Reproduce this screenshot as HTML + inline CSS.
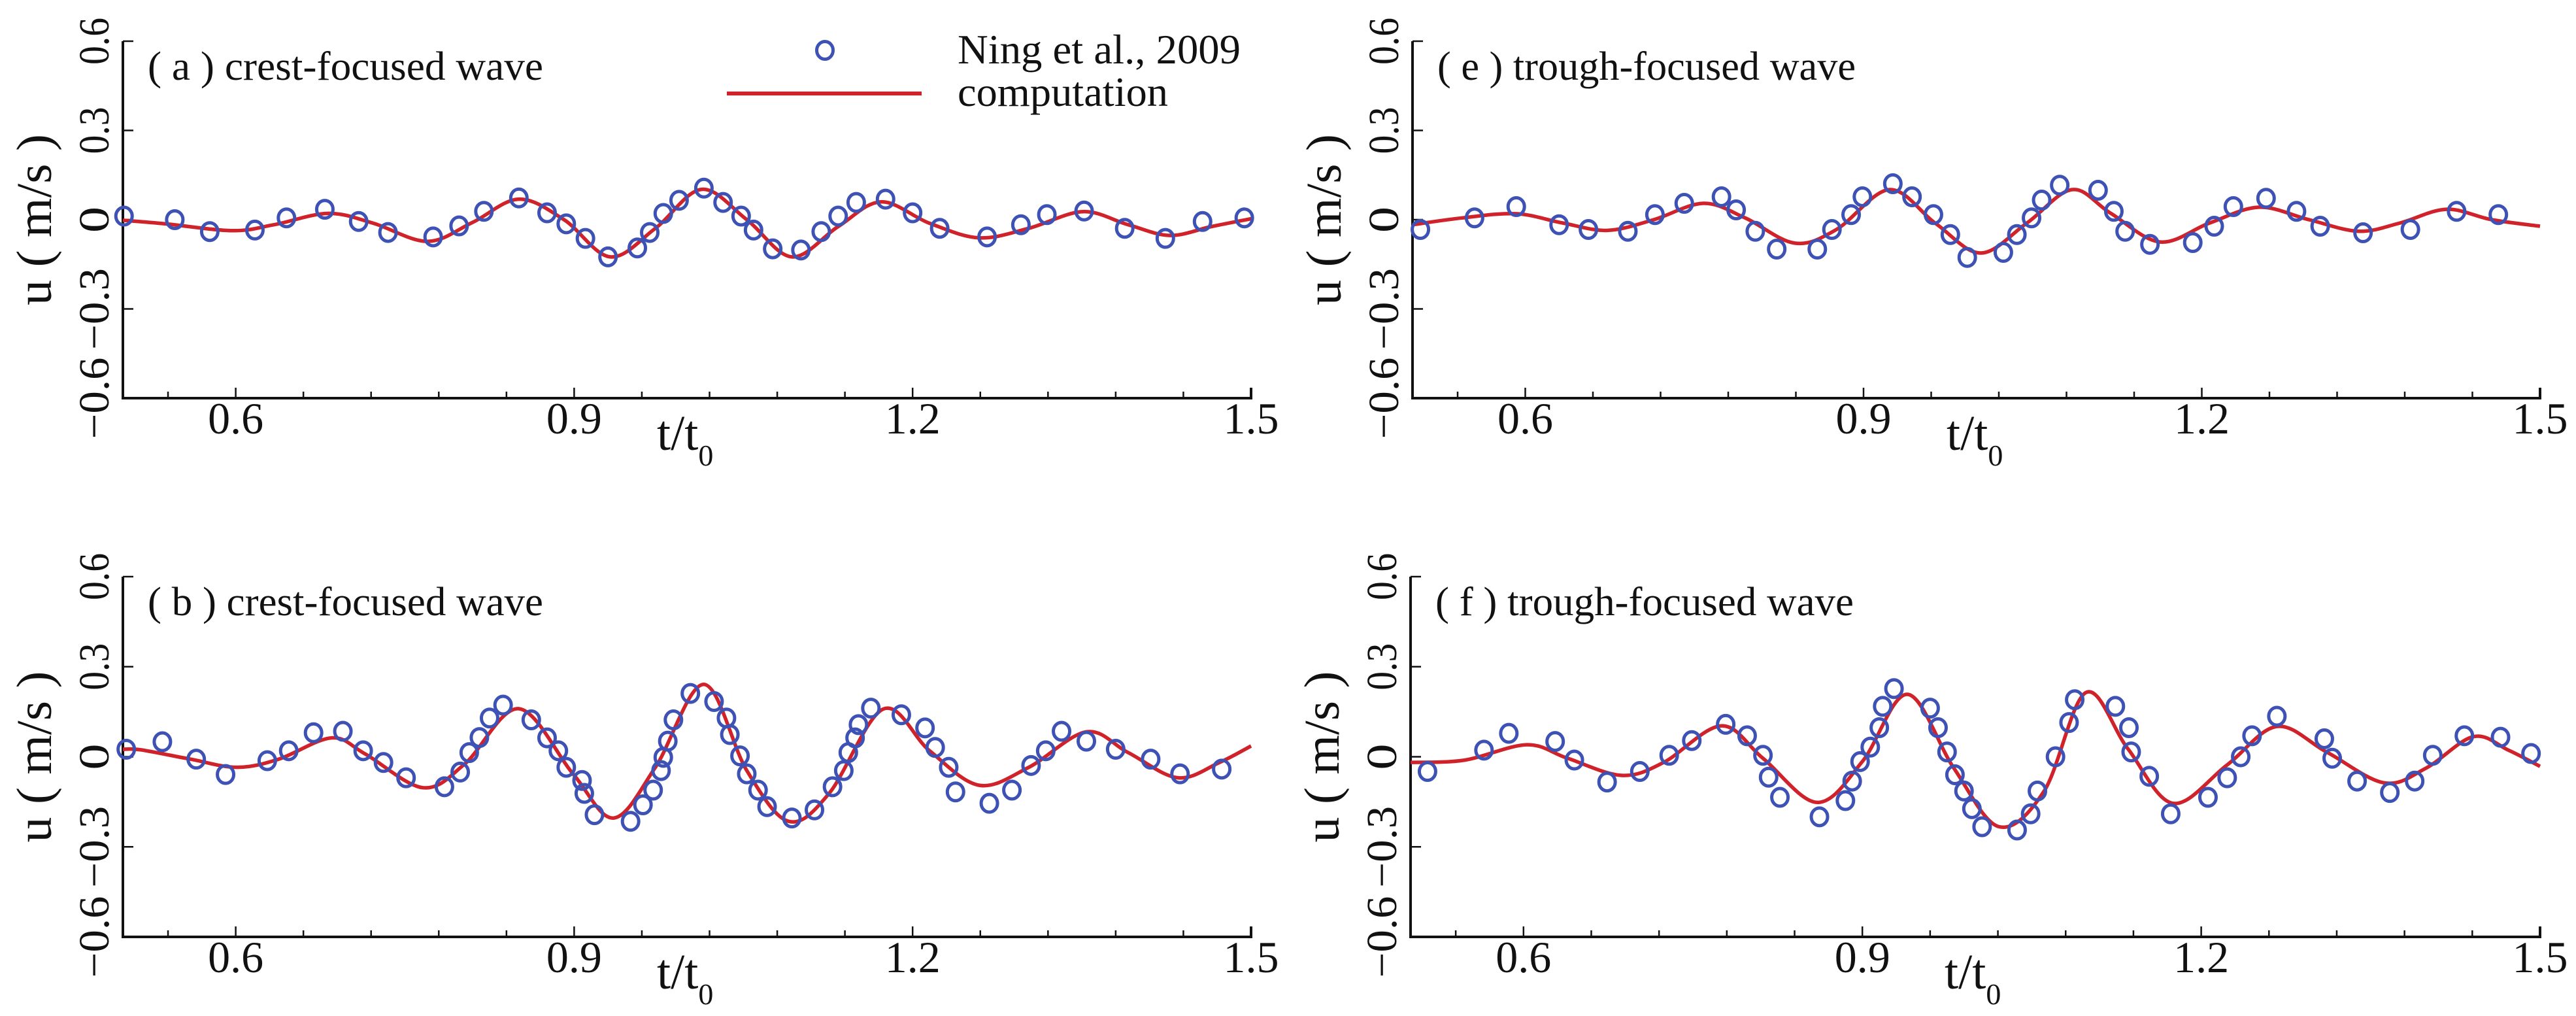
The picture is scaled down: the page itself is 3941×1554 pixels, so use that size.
<!DOCTYPE html>
<html><head><meta charset="utf-8"><style>
html,body{margin:0;padding:0;background:#fff;}
svg{display:block;}
text{font-family:"Liberation Serif",serif;fill:#111;}
</style></head><body>
<svg id="fig" width="3941" height="1554" viewBox="0 0 3941 1554" xmlns="http://www.w3.org/2000/svg"></svg>
<script>
// ---- data ----
const xTicksMajor = [0.6, 0.9, 1.2, 1.5];
const xTickLabels = ["0.6", "0.9", "1.2", "1.5"];
const xTicksMinor = [0.54, 0.66, 0.72, 0.78, 0.84, 0.96, 1.02, 1.08, 1.14, 1.26, 1.32, 1.38, 1.44];
const yTicks = [-0.6, -0.3, 0, 0.3, 0.6];
const yTickLabels = ["\u22120.6", "\u22120.3", "0", "0.3", "0.6"];

const aExpT = [0.501,0.546,0.577,0.617,0.645,0.679,0.709,0.735,0.775,0.798,0.820,0.851,0.876,0.893,0.910,0.930,0.956,0.967,0.979,0.993,1.015,1.032,1.048,1.059,1.076,1.101,1.119,1.134,1.150,1.176,1.200,1.224,1.266,1.296,1.319,1.352,1.388,1.424,1.457,1.494];
const aExpU = [0.012,0,-0.040,-0.035,0.006,0.035,-0.006,-0.043,-0.058,-0.021,0.028,0.073,0.023,-0.014,-0.063,-0.125,-0.095,-0.043,0.021,0.065,0.106,0.058,0.012,-0.035,-0.098,-0.102,-0.040,0.012,0.058,0.069,0.023,-0.029,-0.058,-0.017,0.017,0.029,-0.029,-0.063,-0.006,0.006];
const aCompT = [0.5,0.538,0.597,0.634,0.682,0.722,0.770,0.810,0.851,0.891,0.932,0.972,1.013,1.053,1.093,1.134,1.172,1.215,1.259,1.303,1.351,1.391,1.428,1.465,1.5];
const aCompU = [-0.002,-0.014,-0.037,-0.017,0.021,-0.012,-0.073,-0.009,0.069,0,-0.125,-0.029,0.102,0,-0.125,-0.023,0.060,-0.012,-0.061,-0.029,0.027,-0.017,-0.053,-0.023,0.003];

const bExpT = [0.503,0.535,0.565,0.591,0.628,0.647,0.669,0.695,0.713,0.731,0.751,0.785,0.799,0.807,0.816,0.825,0.837,0.862,0.876,0.886,0.893,0.907,0.909,0.918,0.950,0.961,0.970,0.977,0.979,0.983,0.988,1.003,1.024,1.035,1.038,1.047,1.053,1.063,1.071,1.093,1.113,1.129,1.139,1.143,1.149,1.152,1.163,1.190,1.211,1.220,1.232,1.238,1.268,1.288,1.305,1.318,1.332,1.354,1.380,1.411,1.437,1.474];
const bExpU = [0.025,0.050,-0.008,-0.059,-0.013,0.020,0.080,0.085,0.020,-0.019,-0.070,-0.100,-0.051,0.014,0.064,0.129,0.172,0.123,0.063,0.020,-0.035,-0.079,-0.122,-0.193,-0.215,-0.160,-0.111,-0.046,-0.002,0.052,0.123,0.211,0.184,0.129,0.074,0.003,-0.057,-0.111,-0.166,-0.204,-0.177,-0.100,-0.046,0.014,0.063,0.107,0.162,0.140,0.096,0.031,-0.035,-0.117,-0.155,-0.111,-0.029,0.020,0.085,0.052,0.025,-0.008,-0.057,-0.041];
const bCompT = [0.5,0.516,0.560,0.601,0.638,0.685,0.715,0.766,0.803,0.851,0.899,0.935,0.972,1.015,1.053,1.090,1.126,1.174,1.215,1.259,1.303,1.354,1.391,1.435,1.472,1.5];
const bCompU = [0.025,0.023,-0.008,-0.035,-0.008,0.063,0.009,-0.103,-0.024,0.160,-0.057,-0.204,-0.035,0.241,-0.046,-0.215,-0.122,0.159,0.020,-0.095,-0.035,0.083,0.014,-0.070,-0.019,0.036];

const eExpT = [0.507,0.555,0.592,0.630,0.656,0.691,0.715,0.741,0.774,0.787,0.804,0.823,0.859,0.872,0.889,0.899,0.926,0.943,0.962,0.977,0.992,1.024,1.036,1.049,1.058,1.074,1.108,1.122,1.132,1.154,1.192,1.211,1.228,1.257,1.284,1.305,1.343,1.385,1.426,1.463];
const eExpU = [-0.033,0.006,0.044,-0.017,-0.033,-0.039,0.017,0.055,0.077,0.033,-0.039,-0.099,-0.099,-0.033,0.017,0.077,0.121,0.077,0.017,-0.050,-0.127,-0.110,-0.050,0.006,0.066,0.116,0.099,0.028,-0.039,-0.083,-0.077,-0.022,0.044,0.072,0.028,-0.022,-0.044,-0.033,0.028,0.017];
const eCompT = [0.5,0.544,0.592,0.633,0.673,0.714,0.758,0.795,0.839,0.876,0.923,0.964,1.004,1.045,1.085,1.119,1.163,1.207,1.251,1.295,1.339,1.376,1.417,1.457,1.5];
const eCompU = [-0.017,0.006,0.020,-0.011,-0.036,0,0.055,0.006,-0.079,-0.033,0.101,-0.013,-0.112,-0.011,0.101,0.022,-0.075,-0.011,0.042,0,-0.039,-0.011,0.035,0,-0.022];

const fExpT = [0.515,0.565,0.587,0.628,0.645,0.674,0.703,0.729,0.749,0.779,0.798,0.812,0.817,0.827,0.862,0.885,0.891,0.898,0.907,0.915,0.918,0.928,0.960,0.967,0.975,0.982,0.990,0.997,1.006,1.037,1.049,1.055,1.071,1.083,1.088,1.124,1.136,1.138,1.154,1.173,1.206,1.223,1.235,1.245,1.267,1.309,1.316,1.338,1.367,1.389,1.405,1.433,1.465,1.492];
const fExpU = [-0.049,0.022,0.078,0.051,-0.011,-0.084,-0.049,0.005,0.054,0.108,0.070,0.005,-0.068,-0.135,-0.200,-0.146,-0.081,-0.016,0.032,0.097,0.168,0.227,0.162,0.097,0.016,-0.060,-0.114,-0.173,-0.233,-0.244,-0.190,-0.114,0,0.114,0.190,0.168,0.097,0.016,-0.065,-0.190,-0.135,-0.070,0,0.070,0.135,0.060,-0.005,-0.081,-0.119,-0.081,0.005,0.070,0.065,0.011];
const fCompT = [0.5,0.548,0.603,0.639,0.687,0.724,0.775,0.812,0.860,0.900,0.940,0.981,1.021,1.061,1.098,1.135,1.175,1.223,1.267,1.311,1.362,1.399,1.441,1.472,1.5];
const fCompU = [-0.019,-0.011,0.040,-0.005,-0.062,-0.019,0.103,-0.005,-0.152,-0.016,0.208,-0.038,-0.233,-0.114,0.214,0.027,-0.155,-0.027,0.101,0.016,-0.087,-0.038,0.067,0.022,-0.032];

const panelLabels = ["( a ) crest-focused wave","( b ) crest-focused wave","( e ) trough-focused wave","( f ) trough-focused wave"];

// ---- drawing ----
const NS = "http://www.w3.org/2000/svg";
const svg = document.getElementById('fig');
function mk(tag, attrs, parent){
  const el = document.createElementNS(NS, tag);
  for (const k in attrs) el.setAttribute(k, attrs[k]);
  (parent||svg).appendChild(el);
  return el;
}
const BLUE = "#3d52b4", RED = "#d0222a";

function smoothPath(pts){
  let d = "M" + pts[0][0].toFixed(1) + "," + pts[0][1].toFixed(1);
  for (let i=0;i<pts.length-1;i++){
    const p0 = pts[i-1]||pts[i], p1=pts[i], p2=pts[i+1], p3=pts[i+2]||pts[i+1];
    const c1x = p1[0]+(p2[0]-p0[0])/6, c1y = p1[1]+(p2[1]-p0[1])/6;
    const c2x = p2[0]-(p3[0]-p1[0])/6, c2y = p2[1]-(p3[1]-p1[1])/6;
    d += " C"+c1x.toFixed(1)+","+c1y.toFixed(1)+" "+c2x.toFixed(1)+","+c2y.toFixed(1)+" "+p2[0].toFixed(1)+","+p2[1].toFixed(1);
  }
  return d;
}

function panel(name, L, R, T, B, label, expT, expU, compT, compU){
  const g = mk('g', {});
  
  
  const sx = t => L + (t-0.5)/(1.0)*(R-L);
  const sy = u => T + (0.6-u)/1.2*(B-T);

  // ticks
  const tg = mk('g', {stroke:"#111","stroke-width":2.5}, g);
  
  
  xTicksMajor.forEach(t => mk('line',{x1:sx(t),x2:sx(t),y1:B,y2:B-16},tg));
  xTicksMinor.forEach(t => mk('line',{x1:sx(t),x2:sx(t),y1:B,y2:B-10},tg));
  yTicks.forEach(u => mk('line',{x1:L,x2:L+16,y1:sy(u),y2:sy(u)},tg));

  // axes
  const ax = mk('path',{d:`M${L},${T} L${L},${B} L${R},${B} L${R},${B-16}`,fill:"none",stroke:"#111","stroke-width":4}, g);
  
  

  // x tick labels
  xTicksMajor.forEach((t,i) => {
    const tx = mk('text',{x:sx(t),y:B+54,"font-size":68,"text-anchor":"middle"}, g);
    
    
    tx.textContent = xTickLabels[i];
  });
  // y tick labels (rotated)
  yTicks.forEach((u,i) => {
    const cx = L-22, cy = sy(u);
    const len = yTickLabels[i].length===1 ? 40 : (yTickLabels[i].length===3 ? 72 : 125);
    const tx = mk('text',{x:0,y:0,"font-size":66,"text-anchor":"middle",textLength:len,lengthAdjust:"spacingAndGlyphs",transform:`translate(${cx},${cy}) rotate(-90)`}, g);
    
    
    tx.textContent = yTickLabels[i];
  });
  // y title
  const yt = mk('text',{x:0,y:0,"font-size":76,"text-anchor":"middle",textLength:262,lengthAdjust:"spacingAndGlyphs",transform:`translate(${L-110},${(T+B)/2}) rotate(-90)`}, g);
  
  
  yt.textContent = "u ( m/s )";
  // x title
  const xt = mk('text',{x:L+817,y:B+79,"font-size":76}, g);
  
  
  xt.textContent = "t/t";
  const sub = mk('tspan',{"font-size":46,dy:24}, xt);
  sub.textContent = "0";

  // panel label
  const pl = mk('text',{x:L+38,y:T+59,"font-size":62,textLength:label.indexOf("trough")>0?640:605,lengthAdjust:"spacingAndGlyphs"}, g);
  
  
  pl.textContent = label;

  // computation line
  const pts = compT.map((t,i)=>[sx(t), sy(compU[i])]);
  const ln = mk('path',{d:smoothPath(pts),fill:"none",stroke:RED,"stroke-width":5.5,"stroke-linejoin":"round"}, g);
  
  

  // experimental circles
  const cg = mk('g',{fill:"none",stroke:BLUE,"stroke-width":5}, g);
  
  
  expT.forEach((t,i) => {
    const c = mk('ellipse',{cx:sx(t),cy:sy(expU[i]),rx:12.5,ry:13.5}, cg);
    
    
  });
}

panel('panel-a', 188, 1914, 63, 609, panelLabels[0], aExpT, aExpU, aCompT, aCompU);
panel('panel-b', 188, 1914, 882, 1433, panelLabels[1], bExpT, bExpU, bCompT, bCompU);
panel('panel-e', 2161, 3886, 63, 609, panelLabels[2], eExpT, eExpU, eCompT, eCompU);
panel('panel-f', 2158, 3886, 882, 1433, panelLabels[3], fExpT, fExpU, fCompT, fCompU);

// legend
const lg = mk('g', {});


const lc = mk('ellipse',{cx:1262,cy:77,rx:12.5,ry:13.5,fill:"none",stroke:BLUE,"stroke-width":5}, lg);


const ll = mk('line',{x1:1112,x2:1410,y1:143,y2:143,stroke:RED,"stroke-width":6}, lg);


const lt1 = mk('text',{x:1465,y:97,"font-size":64,textLength:433,lengthAdjust:"spacingAndGlyphs"}, lg);


lt1.textContent = "Ning et al., 2009";
const lt2 = mk('text',{x:1465,y:162,"font-size":64,textLength:322,lengthAdjust:"spacingAndGlyphs"}, lg);


lt2.textContent = "computation";
</script>
</body></html>
